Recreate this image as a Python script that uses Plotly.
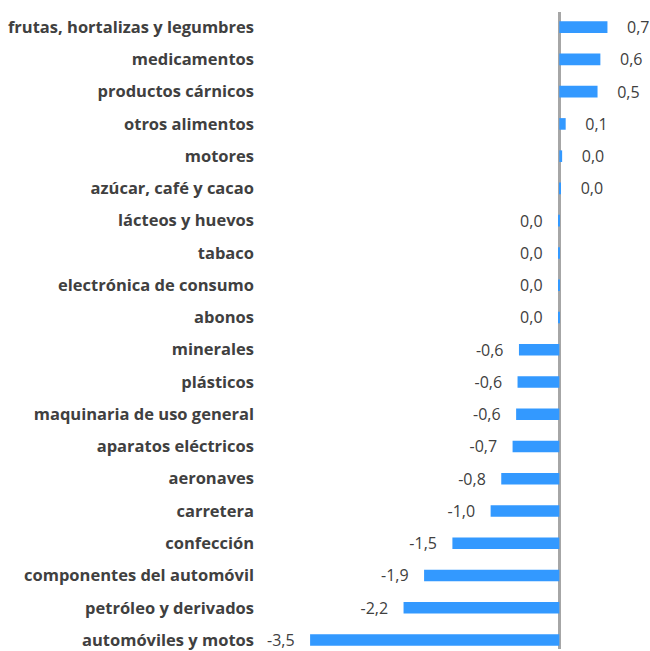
import plotly.graph_objects as go

# Categories, top to bottom
categories = [
    "frutas, hortalizas y legumbres",
    "medicamentos",
    "productos cárnicos",
    "otros alimentos",
    "motores",
    "azúcar, café y cacao",
    "lácteos y huevos",
    "tabaco",
    "electrónica de consumo",
    "abonos",
    "minerales",
    "plásticos",
    "maquinaria de uso general",
    "aparatos eléctricos",
    "aeronaves",
    "carretera",
    "confección",
    "componentes del automóvil",
    "petróleo y derivados",
    "automóviles y motos",
]
values = [0.68, 0.58, 0.54, 0.09, 0.04, 0.01, -0.01, -0.01, -0.01, -0.01,
          -0.57, -0.59, -0.61, -0.66, -0.82, -0.97, -1.51, -1.91, -2.2, -3.52]


def fmt(v):
    s = f"{round(v, 1) + 0.0:.1f}".replace(".", ",")
    if v >= 0:
        return "\u00a0" * 4 + s
    return s + "\u00a0" * 3


labels = [fmt(v) for v in values]

fig = go.Figure(
    go.Bar(
        x=values,
        y=categories,
        orientation="h",
        marker=dict(color="#3399FF", line=dict(width=0)),
        text=labels,
        textposition="outside",
        constraintext="none",
        textfont=dict(family="Open Sans", size=16, color="#404040"),
        cliponaxis=False,
        hoverinfo="x+y",
    )
)

fig.update_layout(
    width=650,
    height=651,
    margin=dict(l=265, r=0, t=12, b=0),
    plot_bgcolor="white",
    paper_bgcolor="white",
    showlegend=False,
    bargap=0.64,
    font=dict(family="Open Sans", color="#404040"),
)
fig.update_xaxes(
    range=[-4.157, 1.281],
    showgrid=False,
    showticklabels=False,
    zeroline=True,
    zerolinecolor="#A6A6A6",
    zerolinewidth=3,
    layer="above traces",
)
fig.update_yaxes(
    categoryorder="array",
    categoryarray=categories,
    range=[19.28, -0.47],
    showgrid=False,
    ticks="",
    ticklabelstandoff=10,
    tickfont=dict(family="Open Sans", size=16.5, color="#404040", weight="bold"),
)

fig.write_html(
    "out.html",
    config={"displayModeBar": False},
    post_script="document.body.style.margin='0';",
)
